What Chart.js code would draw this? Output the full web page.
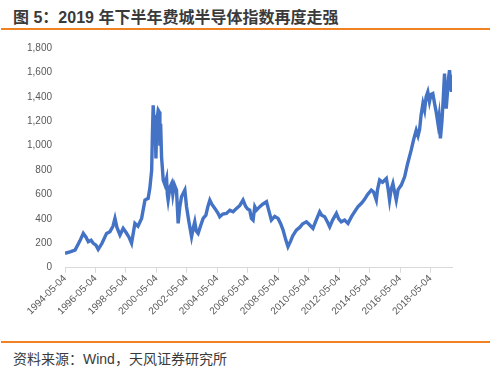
<!DOCTYPE html>
<html>
<head>
<meta charset="utf-8">
<script src="https://cdn.jsdelivr.net/npm/chart.js@4"></script>
<style>
  body { margin: 0; background: #fff; }
  #wrap { position: relative; width: 492px; height: 369px; overflow: hidden; }
  .title { position: absolute; left: 13px; top: 4px; font: bold 16px "Liberation Sans", "Noto Sans CJK SC", sans-serif; color: #3a3a3a; white-space: nowrap; }
  .rule { position: absolute; left: 1px; width: 489px; height: 2px; background: #f08224; }
  .source { position: absolute; left: 13px; top: 348px; font: 14px "Liberation Sans", "Noto Sans CJK SC", sans-serif; color: #3a3a3a; white-space: nowrap; }
  #box { position: absolute; left: 0; top: 30px; width: 492px; height: 308px; }
</style>
</head>
<body>
<div id="wrap">
  <div class="title">图 5：2019 年下半年费城半导体指数再度走强</div>
  <div class="rule" style="top:28px"></div>
  <div id="box"><canvas id="myChart"></canvas></div>
  <div class="rule" style="top:341px"></div>
  <div class="source">资料来源：Wind，天风证券研究所</div>
</div>
<script>
'use strict';
// 费城半导体指数
const years = [
  1994.34, 1994.67, 1995.00, 1995.32, 1995.54, 1995.72, 1995.87, 1996.05, 1996.20, 1996.37,
  1996.52, 1996.77, 1997.07, 1997.29, 1997.49, 1997.62, 1997.75, 1997.95, 1998.16, 1998.34,
  1998.54, 1998.71, 1998.93, 1999.13, 1999.37, 1999.59, 1999.80, 1999.91, 2000.03, 2000.08,
  2000.13, 2000.21, 2000.25, 2000.31, 2000.37, 2000.46, 2000.52, 2000.57, 2000.62, 2000.68,
  2000.79, 2000.90, 2001.01, 2001.06, 2001.11, 2001.23, 2001.34, 2001.42, 2001.52, 2001.66,
  2001.77, 2001.88, 2001.99, 2002.21, 2002.32, 2002.47, 2002.65, 2002.77, 2002.86, 2002.96,
  2003.08, 2003.26, 2003.41, 2003.59, 2003.72, 2003.85, 2003.98, 2004.18, 2004.37, 2004.50,
  2004.70, 2004.94, 2005.16, 2005.38, 2005.60, 2005.82, 2006.03, 2006.21, 2006.34, 2006.47,
  2006.58, 2006.69, 2006.80, 2006.91, 2007.13, 2007.32, 2007.57, 2007.72, 2007.89, 2008.11,
  2008.33, 2008.50, 2008.66, 2008.83, 2008.98, 2009.16, 2009.29, 2009.53, 2009.75, 2009.95,
  2010.19, 2010.41, 2010.62, 2010.80, 2011.06, 2011.19, 2011.39, 2011.59, 2011.72, 2011.91,
  2012.16, 2012.31, 2012.48, 2012.70, 2012.92, 2013.16, 2013.36, 2013.57, 2013.82, 2014.01,
  2014.21, 2014.45, 2014.60, 2014.78, 2014.86, 2015.00, 2015.19, 2015.44, 2015.55, 2015.65,
  2015.75, 2015.87, 2015.98, 2016.09, 2016.21, 2016.42, 2016.64, 2016.83, 2017.07, 2017.23,
  2017.40, 2017.52, 2017.62, 2017.72, 2017.84, 2017.95, 2018.05, 2018.16, 2018.27, 2018.37,
  2018.49, 2018.60, 2018.71, 2018.83, 2018.90, 2018.99, 2019.09, 2019.16, 2019.26, 2019.32,
  2019.37, 2019.46, 2019.52, 2019.59, 2019.65, 2019.70, 2019.74
];
const sox = [
  118, 130, 145, 220, 281, 250, 213, 225, 200, 185,
  150, 200, 281, 295, 340, 404, 330, 268, 322, 290,
  250, 200, 363, 340, 404, 554, 568, 650, 800, 1100,
  1331, 1150, 1250, 895, 1200, 1290, 1277, 1000, 1180, 908,
  718, 680, 731, 600, 554, 660, 690, 600, 680, 636,
  363, 500, 581, 636, 499, 380, 254, 330, 376, 300,
  281, 350, 404, 430, 500, 554, 520, 486, 450, 417,
  440, 445, 470, 458, 486, 510, 554, 500, 480, 472,
  404, 390, 499, 472, 500, 520, 540, 470, 390, 420,
  404, 360, 308, 230, 172, 220, 260, 308, 330, 360,
  376, 350, 322, 380, 458, 430, 417, 370, 335, 390,
  445, 400, 376, 390, 363, 420, 460, 499, 530, 560,
  600, 636, 620, 554, 640, 718, 700, 731, 650, 554,
  640, 690, 620, 554, 640, 677, 745, 850, 963, 1050,
  1127, 1080, 1130, 1250, 1345, 1290, 1400, 1440, 1360, 1420,
  1427, 1350, 1277, 1180, 1240, 1059, 1200, 1350, 1591, 1400,
  1304, 1450, 1550, 1618, 1500, 1454, 1580
];
const tickYears = [1994.34, 1996.34, 1998.34, 2000.34, 2002.34, 2004.34, 2006.34,
  2008.34, 2010.34, 2012.34, 2014.34, 2016.34, 2018.34];
const tickLabels = ['1994-05-04', '1996-05-04', '1998-05-04', '2000-05-04', '2002-05-04',
  '2004-05-04', '2006-05-04', '2008-05-04', '2010-05-04', '2012-05-04', '2014-05-04',
  '2016-05-04', '2018-05-04'];

const points = years.map((y, i) => ({ x: y, y: sox[i] }));
const axisFont = { family: '"Liberation Sans", sans-serif', size: 10 };

const ctx = document.getElementById('myChart').getContext('2d');
const myChart = new Chart(ctx, {
    type: 'line',
    data: {
        datasets: [{
            data: points,
            borderColor: '#4472c4',
            borderWidth: 3.4,
            pointRadius: 0,
            tension: 0,
            fill: false
        }]
    },
    options: {
        responsive: true,
        maintainAspectRatio: false,
        animation: false,
        layout: { padding: { top: 18, right: 40, bottom: 0, left: 0 } },
        plugins: { legend: { display: false }, tooltip: { enabled: false } },
        scales: {
            x: {
                type: 'linear',
                min: 1994.34,
                max: 2019.75,
                afterBuildTicks: s => { s.ticks = tickYears.map(v => ({ value: v })); },
                afterFit: s => { s.height = 70.3; },
                grid: { display: true, drawOnChartArea: false, drawTicks: true, tickLength: 5, color: '#d9d9d9' },
                border: { display: true, color: '#d9d9d9' },
                ticks: {
                    autoSkip: false,
                    maxRotation: 45,
                    minRotation: 45,
                    padding: 0,
                    color: '#595959',
                    font: axisFont,
                    callback: (v, i) => tickLabels[i]
                }
            },
            y: {
                min: 0,
                max: 1800,
                afterFit: s => { s.width = 65; },
                grid: { display: false },
                border: { display: false },
                ticks: {
                    stepSize: 200,
                    padding: 5,
                    color: '#595959',
                    font: axisFont,
                    callback: v => v.toLocaleString('en-US')
                }
            }
        }
    }
});
</script>
</body>
</html>
